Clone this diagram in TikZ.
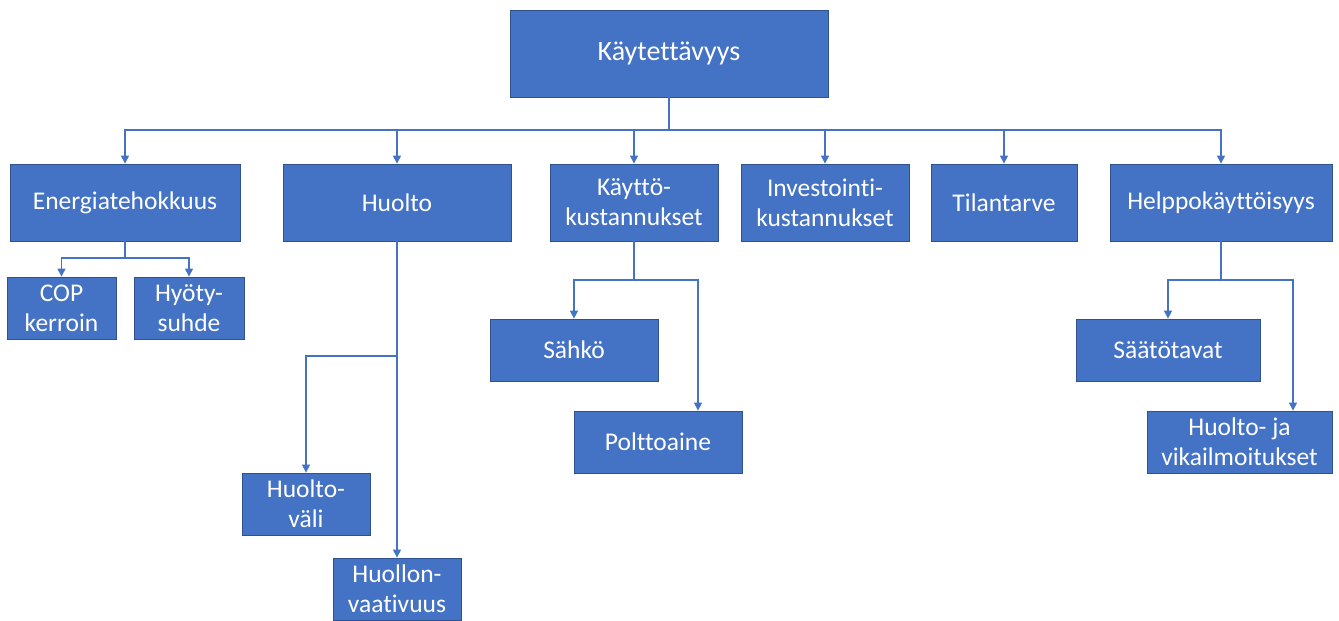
\documentclass[tikz,border=0pt]{standalone}
\usepackage{fontspec}
\setmainfont[Ligatures=NoCommon]{Carlito}
\usepackage{xcolor}
\usepackage{tikz}
\usetikzlibrary{positioning, arrows.meta}

\definecolor{boxblue}{HTML}{4472C4}
\definecolor{boxedge}{HTML}{2F528F}

\begin{document}
\begin{tikzpicture}[
  x=1pt, y=-1pt,
  box/.style={rectangle, fill=boxblue, draw=boxedge, line width=0.8pt, text=white,
    align=center, inner sep=0pt, font=\fontsize{25.5}{30}\selectfont},
  topbox/.style={box, minimum width=318pt, minimum height=87pt, font=\fontsize{28}{32}\selectfont},
  lvl/.style={box, minimum height=77pt},
  leaf/.style={box, minimum height=62pt},
  conn/.style={draw=boxblue, line width=1.1pt},
  arr/.style={conn, -{Triangle[length=8pt, width=8pt]}},
]
  \useasboundingbox (0,0) rectangle (1339,621);

  % root
  \node[topbox] (k0) at (669,53.5) {Käytettävyys};

  % first level
  \node[lvl, minimum width=230pt] (e1) at (125,202.5) {Energiatehokkuus};
  \node[lvl, minimum width=228pt] (h1) at (397,202.5) {Huolto};
  \node[lvl, minimum width=168pt] (k1) at (634,202.5) {Käyttö-\\kustannukset};
  \node[lvl, minimum width=168pt] (i1) at (825,202.5) {Investointi-\\kustannukset};
  \node[lvl, minimum width=146pt] (t1) at (1004,202.5) {Tilantarve};
  \node[lvl, minimum width=222pt] (p1) at (1221,202.5) {Helppokäyttöisyys};

  % second level
  \node[leaf, minimum width=109pt] (e2) at (61.5,308) {COP\\kerroin};
  \node[leaf, minimum width=110pt] (e3) at (189,308) {Hyöty-\\suhde};
  \node[leaf, minimum width=128pt] (h2) at (306,504) {Huolto-\\väli};
  \node[leaf, minimum width=128pt] (h3) at (397,589) {Huollon-\\vaativuus};
  \node[leaf, minimum width=168pt] (k2) at (574,350) {Sähkö};
  \node[leaf, minimum width=168pt] (k3) at (658,442) {Polttoaine};
  \node[leaf, minimum width=184pt] (p2) at (1168,350) {Säätötavat};
  \node[leaf, minimum width=185pt] (p3) at (1239.5,442) {Huolto- ja\\vikailmoitukset};

  % bus points
  \coordinate (b0) at (669,130);
  \coordinate (be) at (125,258);
  \coordinate (bh) at (397,356);
  \coordinate (bk) at (634,280);
  \coordinate (bp) at (1221,280);

  \draw[conn] (k0.south) -- (b0);
  \foreach \n in {e1,h1,k1,i1,t1,p1}
    \draw[arr] (b0) -| (\n.north);

  \draw[conn] (e1.south) -- (be);
  \draw[arr] (be) -| (e2.north);
  \draw[arr] (be) -| (e3.north);

  \draw[arr] (h1.south) -- (h3.north);
  \draw[arr] (bh) -| (h2.north);

  \draw[conn] (k1.south) -- (bk);
  \draw[arr] (bk) -| (k2.north);
  \draw[arr] (bk) -| ([xshift=40pt]k3.north);

  \draw[conn] (p1.south) -- (bp);
  \draw[arr] (bp) -| (p2.north);
  \draw[arr] (bp) -| ([xshift=53.5pt]p3.north);
\end{tikzpicture}
\end{document}
